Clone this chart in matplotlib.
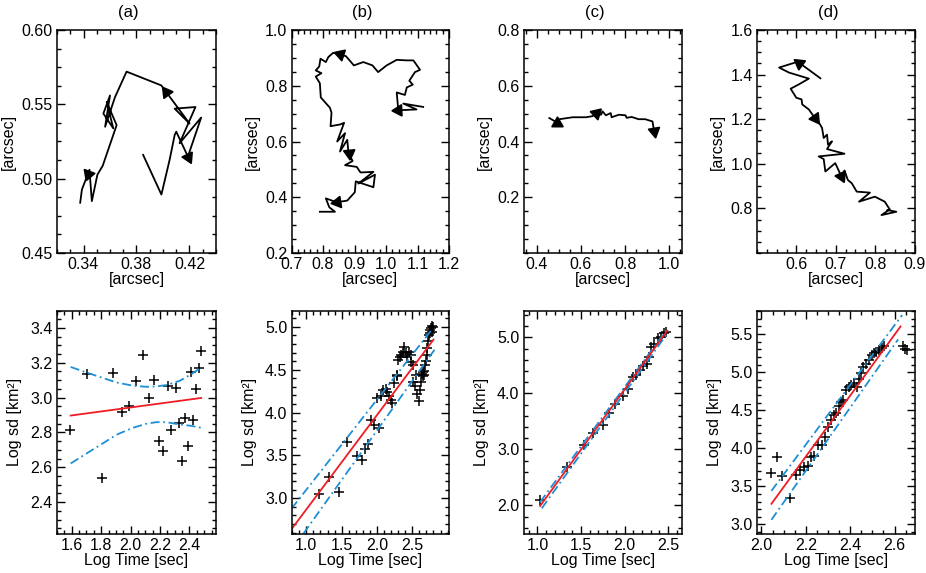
import numpy as np
import matplotlib
matplotlib.use('Agg')
import matplotlib.pyplot as plt
from matplotlib.ticker import FixedLocator, MultipleLocator

plt.rcParams['font.family'] = ['Liberation Sans', 'DejaVu Sans']

# ---- top row: trajectories [arcsec] ----
traj_a_x = [0.385, 0.3988, 0.405, 0.4088, 0.41, 0.4188, 0.4288, 0.4125, 0.4245, 0.4088,
            0.42, 0.4025, 0.3988, 0.3725, 0.3638, 0.3563, 0.36, 0.355, 0.3625, 0.3575,
            0.365, 0.3545, 0.3505, 0.3463, 0.3445, 0.3433, 0.3388, 0.3375]
traj_a_y = [0.516, 0.4893, 0.5127, 0.5293, 0.5316, 0.5149, 0.5411, 0.5238, 0.5482, 0.5471,
            0.5371, 0.5582, 0.5627, 0.572, 0.5549, 0.5349, 0.556, 0.5438, 0.5338, 0.5516,
            0.536, 0.5087, 0.5027, 0.4849, 0.506, 0.5031, 0.4927, 0.4838]
arrows_a = [5, 11, 25]

traj_b_x = [1.118, 1.055, 1.097, 1.039, 1.034, 1.060, 1.066, 1.085, 1.074, 1.092,
            1.108, 1.087, 1.066, 1.034, 1.002, 0.975, 0.957, 0.928, 0.898, 0.873,
            0.854, 0.832, 0.817, 0.809, 0.792, 0.788, 0.777, 0.795, 0.777, 0.790,
            0.793, 0.822, 0.827, 0.824, 0.854, 0.867, 0.845, 0.870, 0.854, 0.877,
            0.881, 0.894, 0.870, 0.907, 0.919, 0.960, 0.912, 0.965, 0.960, 0.904,
            0.901, 0.877, 0.843, 0.809, 0.820, 0.838, 0.790]
traj_b_y = [0.724, 0.736, 0.715, 0.712, 0.776, 0.767, 0.794, 0.804, 0.818, 0.849,
            0.857, 0.891, 0.891, 0.893, 0.873, 0.849, 0.873, 0.885, 0.873, 0.906,
            0.913, 0.918, 0.903, 0.885, 0.897, 0.869, 0.855, 0.845, 0.833, 0.809,
            0.758, 0.721, 0.703, 0.655, 0.661, 0.667, 0.600, 0.630, 0.564, 0.606,
            0.558, 0.530, 0.515, 0.509, 0.489, 0.491, 0.449, 0.481, 0.436, 0.457,
            0.418, 0.388, 0.382, 0.396, 0.364, 0.348, 0.348]
arrows_b = [3, 20, 40, 52]

traj_c_x = [0.457, 0.492, 0.503, 0.563, 0.623, 0.653, 0.668, 0.691, 0.698, 0.713,
            0.735, 0.739, 0.772, 0.802, 0.807, 0.830, 0.861, 0.891, 0.924, 0.932]
traj_c_y = [0.484, 0.468, 0.480, 0.487, 0.487, 0.491, 0.502, 0.496, 0.508, 0.494,
            0.502, 0.487, 0.496, 0.494, 0.485, 0.488, 0.480, 0.480, 0.472, 0.436]
arrows_c = [1, 6, 19]

traj_d_x = [0.661, 0.6065, 0.6023, 0.5562, 0.5813, 0.6317, 0.6065, 0.5855, 0.5998, 0.6132,
            0.6149, 0.6317, 0.6467, 0.6568, 0.6652, 0.6694, 0.6778, 0.6803, 0.6904, 0.6778,
            0.7222, 0.6568, 0.6694, 0.6736, 0.6987, 0.7138, 0.7222, 0.7306, 0.7407, 0.7532,
            0.7868, 0.7591, 0.7994, 0.8245, 0.8371, 0.8161, 0.8539, 0.8312]
traj_d_y = [1.3835, 1.4541, 1.4571, 1.4316, 1.409, 1.382, 1.3564, 1.3368, 1.2962, 1.2887,
            1.2662, 1.2436, 1.206, 1.1865, 1.1609, 1.1158, 1.1308, 1.0857, 1.1008, 1.0662,
            1.0451, 1.0331, 1.0211, 0.9654, 1.003, 0.9459, 0.9699, 0.9278, 0.9128, 0.8752,
            0.8707, 0.8301, 0.8526, 0.8301, 0.7955, 0.7699, 0.785, 0.7925]
arrows_d = [1, 12, 25]

# ---- bottom row: log sd vs log time ----
sd_a_t = [1.589, 1.706, 1.803, 1.877, 1.94, 1.99, 2.039, 2.085, 2.123, 2.159, 2.193, 2.22,
          2.251, 2.276, 2.305, 2.332, 2.346, 2.371, 2.391, 2.407, 2.427, 2.445, 2.463, 2.477]
sd_a_s = [2.816, 3.138, 2.54, 3.144, 2.916, 2.95, 3.096, 3.244, 2.998, 3.1, 2.749, 2.696,
          3.066, 2.816, 3.058, 2.855, 2.635, 2.884, 2.723, 3.148, 2.869, 3.047, 3.172, 3.267]
fit_a_t = [1.593, 2.479]
fit_a_s = [2.897, 2.998]
band_a_t = [1.593, 1.70, 1.79, 1.904, 2.017, 2.107, 2.175, 2.242, 2.333, 2.411, 2.479]
band_a_hi = [3.176, 3.144, 3.119, 3.087, 3.068, 3.062, 3.064, 3.072, 3.096, 3.134, 3.172]
band_a_lo = [2.622, 2.679, 2.726, 2.787, 2.827, 2.85, 2.859, 2.859, 2.846, 2.838, 2.827]

sd_b_t = [1.173, 1.319, 1.469, 1.572, 1.717, 1.788, 1.83, 1.872, 1.914, 1.961, 2.031, 1.999,
          2.064, 2.092, 2.125, 2.149, 2.177, 2.196, 2.219, 2.242, 2.28, 2.289, 2.303, 2.327,
          2.346, 2.374, 2.383, 2.406, 2.43, 2.453, 2.477, 2.486, 2.514, 2.547, 2.514, 2.538,
          2.571, 2.594, 2.608, 2.627, 2.646, 2.664, 2.678, 2.688, 2.702, 2.711, 2.721, 2.735,
          2.749, 2.758, 2.772, 2.786, 2.795, 2.782, 2.64, 2.655, 2.67]
sd_b_s = [3.05, 3.25, 3.07, 3.66, 3.49, 3.45, 3.57, 3.63, 3.91, 3.85, 3.82, 4.17,
          4.19, 4.26, 4.27, 4.24, 4.19, 4.15, 4.11, 4.34, 4.43, 4.44, 4.61, 4.65,
          4.67, 4.71, 4.77, 4.69, 4.65, 4.71, 4.67, 4.59, 4.55, 4.44, 4.36, 4.31,
          4.22, 4.13, 4.26, 4.36, 4.43, 4.48, 4.55, 4.6, 4.67, 4.75, 4.84, 4.9,
          4.93, 4.96, 4.99, 5.01, 5.0, 4.94, 4.45, 4.47, 4.44]
fit_b_t = [0.79, 2.80]
fit_b_s = [2.64, 4.85]
band_b_hi_t = [0.79, 2.78]
band_b_hi_s = [2.88, 4.97]
band_b_lo_t = [0.96, 2.83]
band_b_lo_s = [2.59, 4.75]

sd_c_t = [1.031, 1.344, 1.534, 1.641, 1.748, 1.824, 1.889, 1.985, 2.042, 2.099, 2.137,
          2.176, 2.206, 2.252, 2.282, 2.309, 2.336, 2.385, 2.416, 2.45, 2.473]
sd_c_s = [2.089, 2.695, 3.081, 3.289, 3.438, 3.646, 3.812, 3.955, 4.086, 4.288, 4.329,
          4.418, 4.49, 4.525, 4.656, 4.822, 4.882, 4.983, 5.001, 5.072, 5.102]
fit_c_t = [1.03, 2.49]
fit_c_s = [1.99, 5.12]
band_c_hi_t = [1.03, 2.49]
band_c_hi_s = [2.06, 5.15]
band_c_lo_t = [1.05, 2.50]
band_c_lo_s = [1.95, 5.09]

sd_d_t = [2.045, 2.07, 2.093, 2.131, 2.154, 2.175, 2.194, 2.209, 2.224, 2.239, 2.257, 2.272,
          2.287, 2.299, 2.313, 2.325, 2.336, 2.348, 2.358, 2.369, 2.381, 2.393, 2.403, 2.418,
          2.43, 2.44, 2.451, 2.458, 2.47, 2.485, 2.497, 2.507, 2.518, 2.53, 2.542, 2.552,
          2.64, 2.648, 2.655]
sd_d_s = [3.68, 3.88, 3.64, 3.35, 3.645, 3.72, 3.76, 3.77, 3.89, 3.9, 4.04, 4.04,
          4.15, 4.28, 4.37, 4.44, 4.46, 4.55, 4.61, 4.64, 4.76, 4.81, 4.83, 4.855,
          4.81, 4.91, 4.99, 5.07, 5.11, 5.16, 5.23, 5.25, 5.27, 5.285, 5.32, 5.34,
          5.34, 5.31, 5.29]
fit_d_t = [2.045, 2.627]
fit_d_s = [3.27, 5.60]
band_d_hi_t = [2.045, 2.634]
band_d_hi_s = [3.44, 5.75]
band_d_lo_t = [2.045, 2.616]
band_d_lo_s = [3.06, 5.43]

titles = ['(a)', '(b)', '(c)', '(d)']

RED = '#ee1c24'
BLUE = '#1e8fd5'
FS = 11.5

W, H = 926, 573
fig = plt.figure(figsize=(W / 100, H / 100), dpi=100)
lefts = [57, 291.5, 523.5, 757]
widths = [159, 157.5, 159, 157.5]
tops = [30, 310.5]
hgt = 223


def make_ax(col, row):
    ax = fig.add_axes([lefts[col] / W, 1 - (tops[row] + hgt) / H, widths[col] / W, hgt / H])
    ax.tick_params(which='both', direction='in', top=True, right=True, labelsize=FS, pad=3)
    ax.tick_params(which='major', length=6, width=1)
    ax.tick_params(which='minor', length=3, width=1)
    for s in ax.spines.values():
        s.set_linewidth(1.1)
    return ax


def set_axes(ax, xlim, ylim, xt, yt, xminor, yminor, xfmt, yfmt):
    ax.set_xlim(xlim)
    ax.set_ylim(ylim)
    ax.xaxis.set_major_locator(FixedLocator(xt))
    ax.yaxis.set_major_locator(FixedLocator(yt))
    ax.set_xticklabels([xfmt % v for v in xt])
    ax.set_yticklabels([yfmt % v for v in yt])
    ax.xaxis.set_minor_locator(MultipleLocator(xminor))
    ax.yaxis.set_minor_locator(MultipleLocator(yminor))


def draw_traj(ax, xs, ys, arrows):
    ax.plot(xs, ys, color='k', lw=1.3)
    for i in arrows:
        p0 = ax.transData.transform((xs[i - 1], ys[i - 1]))
        p1 = ax.transData.transform((xs[i], ys[i]))
        ang = np.degrees(np.arctan2(p1[1] - p0[1], p1[0] - p0[0]))
        ax.plot(xs[i], ys[i], marker=(3, 0, ang - 90), ms=9.5, color='k', mec='k')


# top row
top_cfg = [
    (traj_a_x, traj_a_y, arrows_a, (0.32, 0.44), (0.45, 0.60), [0.34, 0.38, 0.42],
     [0.45, 0.50, 0.55, 0.60], 0.01, 0.0125, '%.2f', '%.2f'),
    (traj_b_x, traj_b_y, arrows_b, (0.7, 1.2), (0.2, 1.0), [0.7, 0.8, 0.9, 1.0, 1.1, 1.2],
     [0.2, 0.4, 0.6, 0.8, 1.0], 0.02, 0.05, '%.1f', '%.1f'),
    (traj_c_x, traj_c_y, arrows_c, (0.34, 1.06), (0.0, 0.8), [0.4, 0.6, 0.8, 1.0],
     [0.2, 0.4, 0.6, 0.8], 0.05, 0.05, '%.1f', '%.1f'),
    (traj_d_x, traj_d_y, arrows_d, (0.5, 0.9), (0.6, 1.6), [0.6, 0.7, 0.8, 0.9],
     [0.8, 1.0, 1.2, 1.4, 1.6], 0.025, 0.05, '%.1f', '%.1f'),
]
for k, cfg in enumerate(top_cfg):
    xs, ys, arr, xl, yl, xt, yt, xm, ym, xf, yf = cfg
    ax = make_ax(k, 0)
    set_axes(ax, xl, yl, xt, yt, xm, ym, xf, yf)
    draw_traj(ax, xs, ys, arr)
    ax.set_xlabel('[arcsec]', fontsize=FS, labelpad=0)
    ax.set_ylabel('[arcsec]', fontsize=FS, labelpad=4)
    ax.set_title(titles[k], fontsize=12, x=0.45, pad=9)

# bottom row
bot_cfg = [
    (sd_a_t, sd_a_s, fit_a_t, fit_a_s, (band_a_t, band_a_hi), (band_a_t, band_a_lo),
     (1.5, 2.58), (2.22, 3.5), [1.6, 1.8, 2.0, 2.2, 2.4], [2.4, 2.6, 2.8, 3.0, 3.2, 3.4], 0.05, 0.05),
    (sd_b_t, sd_b_s, fit_b_t, fit_b_s, (band_b_hi_t, band_b_hi_s), (band_b_lo_t, band_b_lo_s),
     (0.79, 3.02), (2.59, 5.19), [1.0, 1.5, 2.0, 2.5], [3.0, 3.5, 4.0, 4.5, 5.0], 0.1, 0.1),
    (sd_c_t, sd_c_s, fit_c_t, fit_c_s, (band_c_hi_t, band_c_hi_s), (band_c_lo_t, band_c_lo_s),
     (0.84, 2.665), (1.5, 5.48), [1.0, 1.5, 2.0, 2.5], [2.0, 3.0, 4.0, 5.0], 0.1, 0.2),
    (sd_d_t, sd_d_s, fit_d_t, fit_d_s, (band_d_hi_t, band_d_hi_s), (band_d_lo_t, band_d_lo_s),
     (1.98, 2.69), (2.88, 5.81), [2.0, 2.2, 2.4, 2.6], [3.0, 3.5, 4.0, 4.5, 5.0, 5.5], 0.05, 0.1),
]
for k, cfg in enumerate(bot_cfg):
    t, s, ft, fs, hi, lo, xl, yl, xt, yt, xm, ym = cfg
    ax = make_ax(k, 1)
    set_axes(ax, xl, yl, xt, yt, xm, ym, '%.1f', '%.1f')
    ax.plot(t, s, '+', color='k', ms=7, mew=1.1)
    ax.plot(hi[0], hi[1], color=BLUE, lw=1.3, dashes=(5, 2, 1, 2))
    ax.plot(lo[0], lo[1], color=BLUE, lw=1.3, dashes=(5, 2, 1, 2))
    ax.plot(ft, fs, color=RED, lw=1.3)
    ax.set_xlabel('Log Time [sec]', fontsize=FS, labelpad=0)
    ax.set_ylabel('Log sd [km²]', fontsize=FS, labelpad=6)

fig.savefig('out.png', dpi=100)
